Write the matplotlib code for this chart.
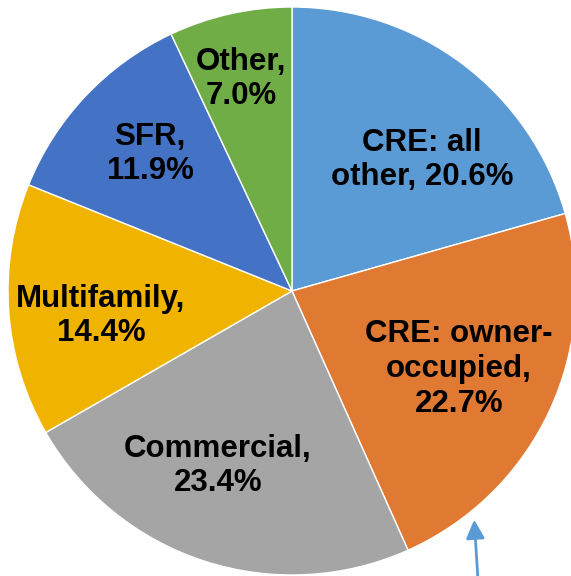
import matplotlib
matplotlib.use("Agg")
import matplotlib.pyplot as plt

# loan mix shares (%), clockwise from 12 o'clock
categories = ['CRE: all other', 'CRE: owner-occupied', 'Commercial', 'Multifamily', 'SFR', 'Other']
shares = [20.6, 22.7, 23.4, 14.4, 11.9, 7.0]
colors = ['#5B9BD5', '#E07932', '#A5A5A5', '#F0B400', '#4472C4', '#70AD47']

# how each label is wrapped on the chart
label_text = ['CRE: all\nother, 20.6%', 'CRE: owner-\noccupied,\n22.7%', 'Commercial,\n23.4%',
              'Multifamily,\n14.4%', 'SFR,\n11.9%', 'Other,\n7.0%']

# label anchor spots in pixel coords (x, y from top)
label_pos = [(422, 160), (459, 369), (218, 466), (101, 316), (150, 154), (241, 79)]

W, H = 571, 576
fig = plt.figure(figsize=(W / 100, H / 100), dpi=100)
ax = fig.add_axes([0, 0, 1, 1])

ax.pie(shares, colors=colors, startangle=90, counterclock=False,
       center=(292, H - 291), radius=284, frame=True,
       wedgeprops=dict(edgecolor='white', linewidth=1))
ax.set_xlim(0, W)
ax.set_ylim(0, H)
ax.set_aspect('equal')
ax.axis('off')

for txt, (px, py) in zip(label_text, label_pos):
    ax.text(px, H - py, txt, ha='center', va='center', fontsize=22.5,
            fontweight='bold', family='Liberation Sans', linespacing=1.2,
            color='black')

# pointer arrow at the bottom
ax.annotate('', xy=(474, H - 517), xytext=(478, H - 580),
            arrowprops=dict(arrowstyle='-|>', color='#5B9BD5', lw=2,
                            mutation_scale=28), annotation_clip=False)

fig.savefig('out.png', dpi=100)
